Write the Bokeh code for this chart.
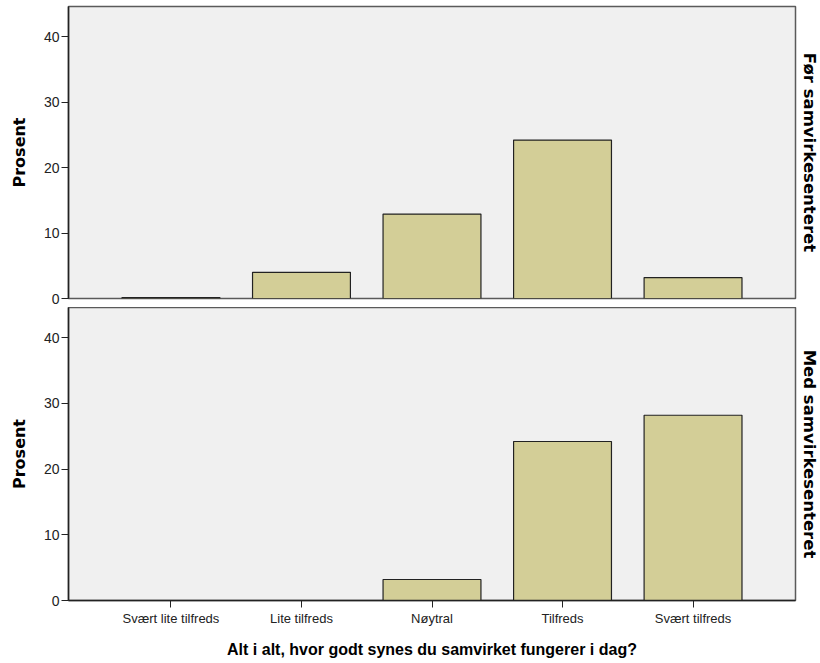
from bokeh.plotting import figure
from bokeh.layouts import column
from bokeh.models import Range1d, FixedTicker, Title
from bokeh.embed import file_html
from bokeh.resources import INLINE

categories = ["Svært lite tilfreds", "Lite tilfreds", "Nøytral", "Tilfreds", "Svært tilfreds"]
values_before = [0.15, 4.0, 12.9, 24.2, 3.2]
values_with = [0.0, 0.0, 3.2, 24.2, 28.2]
panel_labels = ["Før samvirkesenteret", "Med samvirkesenteret"]
y_ticks = [0, 10, 20, 30, 40]
y_label = "Prosent"
x_label = "Alt i alt, hvor godt synes du samvirket fungerer i dag?"

FONT = "Liberation Sans"
BOLD_FONT = "DejaVu Sans"
BAR_FILL = "#D3CE97"
BG = "#F0F0F0"

idx = list(range(len(categories)))


def make_panel(values, label, show_x):
    p = figure(
        output_backend="svg", toolbar_location=None,
        frame_width=727, frame_height=293 if show_x else 292,
        min_border_left=68, min_border_right=0,
        min_border_top=0 if show_x else 6,
        min_border_bottom=60 if show_x else 9,
        x_range=Range1d(-0.785, len(categories) - 1 + 0.785),
        y_range=Range1d(0, 44.6),
    )
    p.background_fill_color = BG
    p.border_fill_color = "white"
    p.outline_line_color = "#5a5a5a"
    p.outline_line_width = 1.5
    p.grid.visible = False

    p.vbar(x=idx, top=values, bottom=0, width=0.75,
           fill_color=BAR_FILL, line_color="#222222", line_width=1.2)

    ya = p.yaxis[0]
    ya.ticker = FixedTicker(ticks=y_ticks)
    ya.minor_tick_line_color = None
    ya.major_tick_in = 0
    ya.major_tick_out = 7
    ya.major_tick_line_color = "#222222"
    ya.axis_line_color = "#222222"
    ya.axis_line_width = 1.5
    ya.major_label_text_font = FONT
    ya.major_label_text_font_size = "14px"
    ya.major_label_text_color = "#222222"
    ya.major_label_standoff = 2
    ya.axis_label = y_label
    ya.axis_label_text_font = BOLD_FONT
    ya.axis_label_text_font_size = "16px"
    ya.axis_label_text_font_style = "bold"
    ya.axis_label_text_color = "black"
    ya.axis_label_standoff = 12

    xa = p.xaxis[0]
    if show_x:
        xa.ticker = FixedTicker(ticks=idx)
        xa.major_label_overrides = {i: c for i, c in zip(idx, categories)}
        xa.minor_tick_line_color = None
        xa.major_tick_in = 0
        xa.major_tick_out = 7
        xa.major_tick_line_color = "#222222"
        xa.axis_line_color = "#222222"
        xa.axis_line_width = 1.5
        xa.major_label_text_font = FONT
        xa.major_label_text_font_size = "13px"
        xa.major_label_text_color = "#222222"
        xa.major_label_standoff = 3
        xa.axis_label = x_label
        xa.axis_label_text_font = FONT
        xa.axis_label_text_font_size = "16px"
        xa.axis_label_text_font_style = "bold"
        xa.axis_label_text_color = "black"
        xa.axis_label_standoff = 12
    else:
        xa.visible = False

    t = Title(text=label, text_font=BOLD_FONT, text_font_size="16.5px",
              text_font_style="bold", text_color="black", align="center",
              standoff=8)
    p.add_layout(t, "right")
    return p


p1 = make_panel(values_before, panel_labels[0], False)
p2 = make_panel(values_with, panel_labels[1], True)
layout = column(p1, p2, spacing=0)

open("out.html", "w").write(file_html(layout, INLINE))
